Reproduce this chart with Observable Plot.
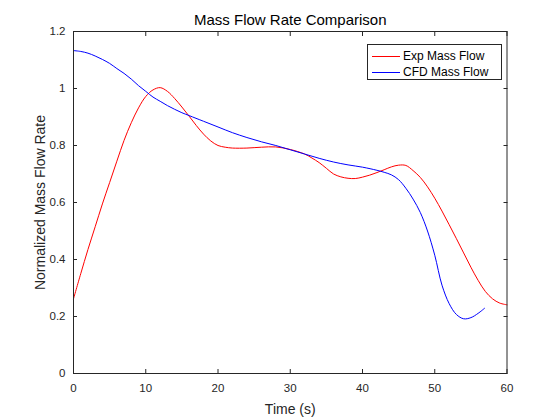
<!DOCTYPE html>
<html>
<head>
<meta charset="utf-8">
<script src="https://cdn.jsdelivr.net/npm/d3@7"></script>
<script src="https://cdn.jsdelivr.net/npm/@observablehq/plot@0.6"></script>
<style>
  html, body { margin: 0; padding: 0; background: #fff; }
  #wrap { position: relative; width: 560px; height: 420px; font-family: "Liberation Sans", Arial, sans-serif; }
  #legend { position: absolute; left: 367px; top: 44px; width: 135px; height: 36px; border: 1px solid #262626; background: #fff; box-sizing: border-box; }
  .item { position: absolute; left: 0; height: 14px; font-size: 12px; color: #000; white-space: nowrap; }
  .swatch { position: absolute; left: 4px; top: 7px; width: 28px; height: 0; border-top: 1px solid; }
  .lab { position: absolute; left: 35px; top: 0; line-height: 14px; }
</style>
</head>
<body>
<div id="wrap"></div>
<script>
const seriesNames = ["Exp Mass Flow", "CFD Mass Flow"];
const seriesColors = ["#ff0000", "#0000ff"];

const expTime = [0,1,2,3,4,5,6,7,8,9,10,11,12,13,14,15,16,17,18,19,20,21,22,24,26,28,30,32,33,34,35,36,37,38,39,40,41,42,43,44,45,46,47,48,49,50,51,52,53,54,55,56,57,58,59,60];
const expFlow = [0.262,0.35,0.435,0.515,0.595,0.67,0.745,0.818,0.88,0.932,0.972,0.995,1.003,0.99,0.965,0.935,0.903,0.87,0.84,0.816,0.80,0.794,0.791,0.791,0.794,0.795,0.786,0.77,0.756,0.74,0.72,0.70,0.69,0.685,0.684,0.689,0.696,0.705,0.715,0.725,0.731,0.73,0.712,0.688,0.655,0.615,0.57,0.522,0.473,0.423,0.373,0.327,0.288,0.262,0.247,0.241];

const cfdTime = [0,1,2,3,4,5,6,7,8,9,10,11,12,13,14,15,16,18,20,22,24,26,28,30,32,34,36,38,40,42,43,44,45,46,47,48,49,50,51,52,53,54,55,56,56.9];
const cfdFlow = [1.133,1.13,1.124,1.114,1.102,1.088,1.07,1.053,1.033,1.01,0.99,0.97,0.955,0.94,0.927,0.915,0.905,0.885,0.865,0.845,0.828,0.813,0.80,0.785,0.77,0.755,0.742,0.732,0.724,0.713,0.706,0.697,0.68,0.65,0.612,0.565,0.50,0.415,0.31,0.245,0.207,0.192,0.196,0.211,0.229];

const xTicks = [0,10,20,30,40,50,60];
const yTicks = [0,0.2,0.4,0.6,0.8,1,1.2];

const titleText = "Mass Flow Rate Comparison";
const xLabel = "Time (s)";
const yLabel = "Normalized Mass Flow Rate";

const expData = expTime.map((t, i) => ({t, v: expFlow[i]}));
const cfdData = cfdTime.map((t, i) => ({t, v: cfdFlow[i]}));

const axisColor = "#262626";
const fmt = d => String(d);

const chart = Plot.plot({
  width: 560,
  height: 420,
  marginTop: 31,
  marginBottom: 47,
  marginLeft: 73,
  marginRight: 53.5,
  style: {fontFamily: "'Liberation Sans', Arial, sans-serif", fontSize: "11.5px", color: axisColor, background: "#fff"},
  x: {domain: [0, 60]},
  y: {domain: [0, 1.2]},
  marks: [
    Plot.line(expData, {x: "t", y: "v", stroke: seriesColors[0], strokeWidth: 1, curve: "catmull-rom"}),
    Plot.line(cfdData, {x: "t", y: "v", stroke: seriesColors[1], strokeWidth: 1, curve: "catmull-rom"}),
    Plot.frame({stroke: axisColor, strokeWidth: 1}),
    Plot.axisX({anchor: "bottom", ticks: xTicks, tickSize: -4, fill: "none", stroke: axisColor, label: null}),
    Plot.axisX({anchor: "top", ticks: xTicks, tickSize: -4, fill: "none", stroke: axisColor, label: null}),
    Plot.axisY({anchor: "left", ticks: yTicks, tickSize: -4, fill: "none", stroke: axisColor, label: null}),
    Plot.axisY({anchor: "right", ticks: yTicks, tickSize: -4, fill: "none", stroke: axisColor, label: null}),
    Plot.axisX({anchor: "bottom", ticks: xTicks, tickSize: 0, tickPadding: 10.5, tickFormat: fmt, label: null, fill: axisColor}),
    Plot.axisY({anchor: "left", ticks: yTicks, tickSize: 0, tickPadding: 8, tickFormat: fmt, label: null, fill: axisColor}),
    Plot.text([titleText], {frameAnchor: "top", lineAnchor: "bottom", dy: -7, fontSize: 15, fill: "#000"}),
    Plot.text([xLabel], {frameAnchor: "bottom", lineAnchor: "bottom", dy: 40, fontSize: 14, fill: axisColor}),
    Plot.text([yLabel], {frameAnchor: "left", textAnchor: "middle", lineAnchor: "bottom", rotate: -90, dx: -29, fontSize: 14, fill: axisColor})
  ]
});

const wrap = document.getElementById("wrap");
wrap.appendChild(chart);

const legend = document.createElement("div");
legend.id = "legend";
seriesNames.forEach((name, i) => {
  const item = document.createElement("div");
  item.className = "item";
  item.style.top = (4 + i * 16) + "px";
  const sw = document.createElement("span");
  sw.className = "swatch";
  sw.style.borderTopColor = seriesColors[i];
  const lab = document.createElement("span");
  lab.className = "lab";
  lab.textContent = name;
  item.appendChild(sw);
  item.appendChild(lab);
  legend.appendChild(item);
});
wrap.appendChild(legend);
</script>
</body>
</html>
